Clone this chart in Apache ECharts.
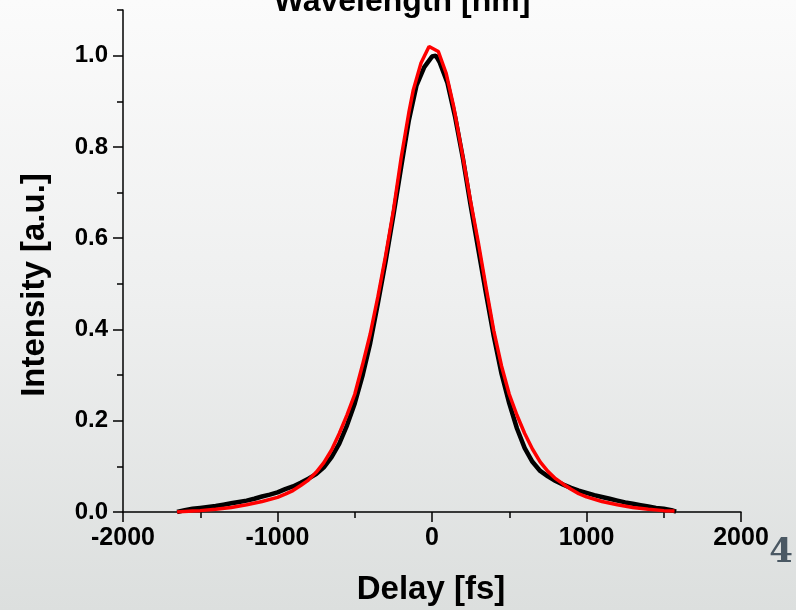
<!DOCTYPE html>
<html>
<head>
<meta charset="utf-8">
<title>Delay scan</title>
<script src="https://cdn.jsdelivr.net/npm/echarts@6/dist/echarts.min.js"></script>
<style>
    html, body {
        margin: 0;
        padding: 0;
    }
    #chart {
        width: 796px;
        height: 610px;
        background: linear-gradient(to bottom, #fbfbfb 0%, #eeefef 50%, #dcdfde 100%);
    }
</style>
</head>
<body>
<div id="chart"></div>
<script>
    // measured trace (black)
    var dataDelay = [
        -1650, -1600, -1550, -1500, -1450, -1400, -1350, -1300, -1250, -1200,
        -1150, -1100, -1050, -1000, -950, -900, -850, -800, -750, -700,
        -650, -600, -550, -500, -450, -400, -350, -300, -250, -200,
        -150, -100, -50, 0, 25, 50, 100, 150, 200, 250,
        300, 350, 400, 450, 500, 550, 600, 650, 700, 750,
        800, 850, 900, 950, 1000, 1050, 1100, 1150, 1200, 1250,
        1300, 1350, 1400, 1450, 1500, 1550, 1580
    ];
    var dataIntensity = [
        0.000, 0.004, 0.007, 0.009, 0.011, 0.013, 0.016, 0.019, 0.022, 0.025,
        0.029, 0.034, 0.038, 0.043, 0.050, 0.056, 0.064, 0.073, 0.083, 0.098,
        0.120, 0.150, 0.190, 0.238, 0.298, 0.370, 0.458, 0.550, 0.650, 0.755,
        0.858, 0.935, 0.975, 0.998, 1.000, 0.985, 0.940, 0.865, 0.775, 0.672,
        0.575, 0.478, 0.385, 0.303, 0.238, 0.183, 0.140, 0.110, 0.090, 0.078,
        0.068, 0.060, 0.053, 0.047, 0.042, 0.037, 0.033, 0.029, 0.025, 0.021,
        0.018, 0.015, 0.012, 0.009, 0.007, 0.004, 0.001
    ];

    // fit (red)
    var fitDelay = [
        -1650, -1550, -1500, -1400, -1300, -1200, -1100, -1000, -950, -900,
        -850, -800, -750, -700, -650, -600, -550, -500, -450, -400,
        -350, -300, -250, -200, -150, -121, -71, -19, 41, 91,
        140, 200, 250, 300, 350, 400, 450, 500, 550, 600,
        650, 700, 750, 800, 850, 900, 950, 1000, 1100, 1200,
        1300, 1400, 1500, 1570
    ];
    var fitIntensity = [
        0.000, 0.002, 0.003, 0.006, 0.010, 0.016, 0.023, 0.032, 0.039, 0.047,
        0.058, 0.070, 0.087, 0.108, 0.136, 0.172, 0.213, 0.258, 0.322, 0.390,
        0.472, 0.562, 0.660, 0.775, 0.875, 0.925, 0.984, 1.020, 1.009, 0.962,
        0.889, 0.778, 0.680, 0.590, 0.492, 0.397, 0.320, 0.258, 0.212, 0.172,
        0.138, 0.110, 0.089, 0.073, 0.061, 0.050, 0.040, 0.033, 0.023, 0.016,
        0.010, 0.006, 0.003, 0.002
    ];

    var yMajorTicks = [0, 0.2, 0.4, 0.6, 0.8, 1.0];
    var yMinorTicks = [0.1, 0.3, 0.5, 0.7, 0.9, 1.1];

    var titleText = 'Wavelength [nm]';
    var xTitle = 'Delay [fs]';
    var yTitle = 'Intensity [a.u.]';
    var pageNo = '4';

    function pairs(xs, ys) {
        var out = [];
        for (var i = 0; i < xs.length; i++) {
            out.push([xs[i], ys[i]]);
        }
        return out;
    }

    var font = 'Liberation Sans';
    var axisColor = { color: '#000', width: 1.5 };

    var chart = echarts.init(document.getElementById('chart'));
    chart.setOption({
        backgroundColor: 'transparent',
        animation: false,
        grid: {
            left: 123,
            right: 55,
            top: 10,
            bottom: 98,
            containLabel: false
        },
        xAxis: {
            type: 'value',
            min: -2000,
            max: 2000,
            interval: 1000,
            axisLine: { onZero: false, lineStyle: axisColor },
            axisTick: { length: 10, lineStyle: axisColor },
            minorTick: { show: true, splitNumber: 2, length: 6, lineStyle: axisColor },
            splitLine: { show: false },
            axisLabel: {
                color: '#000',
                fontFamily: font,
                fontWeight: 'bold',
                fontSize: 25,
                margin: 14,
                formatter: function (v) { return String(v); }
            }
        },
        yAxis: [{
            type: 'value',
            min: 0,
            max: 1.1,
            axisLine: { show: true, onZero: false, lineStyle: axisColor },
            axisTick: { show: true, length: 10, customValues: yMajorTicks, lineStyle: axisColor },
            splitLine: { show: false },
            axisLabel: {
                color: '#000',
                fontFamily: font,
                fontWeight: 'bold',
                fontSize: 24,
                margin: 15,
                customValues: yMajorTicks,
                formatter: function (v) { return v.toFixed(1); }
            }
        }, {
            type: 'value',
            min: 0,
            max: 1.1,
            position: 'left',
            axisLine: { show: false, onZero: false },
            axisTick: { show: true, length: 6, customValues: yMinorTicks, lineStyle: axisColor },
            splitLine: { show: false },
            axisLabel: { show: false }
        }],
        series: [{
            name: 'data',
            type: 'line',
            data: pairs(dataDelay, dataIntensity),
            showSymbol: false,
            smooth: false,
            lineStyle: { color: '#000', width: 4.5 },
            z: 2
        }, {
            name: 'fit',
            type: 'line',
            data: pairs(fitDelay, fitIntensity),
            showSymbol: false,
            smooth: false,
            lineStyle: { color: '#ff0000', width: 3.5 },
            z: 3
        }],
        graphic: [{
            type: 'text',
            x: 402,
            y: 2,
            style: {
                text: titleText,
                fontFamily: font,
                fontWeight: 'bold',
                fontSize: 32,
                fill: '#000',
                textAlign: 'center',
                textVerticalAlign: 'middle'
            }
        }, {
            type: 'text',
            x: 431,
            y: 590,
            style: {
                text: xTitle,
                fontFamily: font,
                fontWeight: 'bold',
                fontSize: 33,
                fill: '#000',
                textAlign: 'center',
                textVerticalAlign: 'middle'
            }
        }, {
            type: 'text',
            x: 35,
            y: 285,
            rotation: Math.PI / 2,
            style: {
                text: yTitle,
                fontFamily: font,
                fontWeight: 'bold',
                fontSize: 33,
                fill: '#000',
                textAlign: 'center',
                textVerticalAlign: 'middle'
            }
        }, {
            type: 'text',
            x: 781,
            y: 553,
            style: {
                text: pageNo,
                fontFamily: 'DejaVu Serif',
                fontWeight: 'bold',
                fontSize: 34,
                fill: '#4a5863',
                textAlign: 'center',
                textVerticalAlign: 'middle'
            }
        }]
    });
</script>
</body>
</html>
